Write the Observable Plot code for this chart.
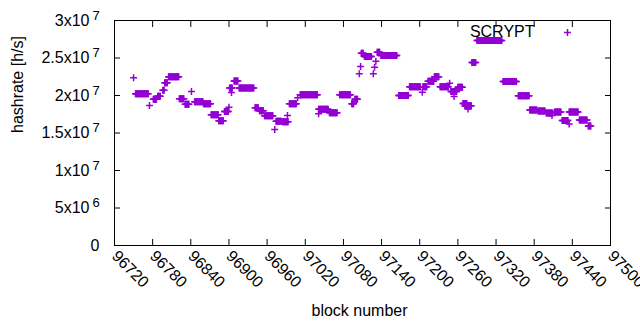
<!DOCTYPE html>
<html><head><meta charset="utf-8">
<script src="https://cdn.jsdelivr.net/npm/d3@7"></script>
<script src="https://cdn.jsdelivr.net/npm/@observablehq/plot@0.6"></script>
<style>
html,body{margin:0;padding:0;background:#fff}
svg{font-family:"Liberation Sans",Arial,sans-serif}
</style>
</head><body><div id="chart"></div>
<script>
// Runs of consecutive blocks sharing one hashrate estimate
const runStart = [96750,96753,96775,96781,96788,96796,96799,96805,96822,96831,96841,96846,96860,96872,96884,96893,96900,96901,96904,96908,96916,96941,96948,96956,96972,96974,96984,96992,96995,97008,97012,97041,97041,97058,97074,97093,97098,97105,97107,97108,97113,97127,97129,97131,97133,97139,97167,97184,97204,97205,97213,97223,97232,97247,97249,97254,97260,97268,97271,97276,97282,97290,97331,97355,97373,97386,97399,97408,97412,97424,97435,97435,97451,97465];
const runEnd   = [96750,96773,96775,96786,96792,96798,96803,96821,96829,96837,96841,96859,96871,96883,96891,96899,96900,96905,96904,96914,96939,96946,96954,96969,96972,96982,96993,96992,97006,97008,97039,97056,97041,97070,97091,97096,97102,97105,97107,97111,97124,97127,97129,97131,97137,97164,97182,97201,97204,97211,97222,97230,97245,97247,97258,97254,97267,97274,97281,97276,97288,97329,97352,97372,97384,97397,97409,97408,97422,97433,97435,97449,97463,97469];
const runValue = [22.36e6,20.22e6,18.67e6,19.5e6,19.9e6,20.7e6,21.7e6,22.5e6,19.56e6,18.84e6,20.53e6,19.16e6,18.9e6,17.42e6,16.62e6,17.87e6,18.44e6,21.0e6,20.4e6,21.95e6,21.0e6,18.36e6,17.96e6,17.29e6,15.47e6,16.58e6,16.5e6,17.33e6,18.9e6,19.7e6,20.09e6,18.18e6,17.56e6,17.69e6,20.09e6,18.9e6,19.5e6,22.9e6,23.87e6,25.64e6,25.2e6,22.9e6,23.78e6,24.58e6,25.78e6,25.33e6,20.0e6,21.16e6,20.44e6,21.16e6,21.9e6,22.49e6,21.16e6,21.64e6,20.53e6,19.87e6,21.1e6,18.93e6,18.62e6,18.2e6,24.4e6,27.33e6,21.87e6,19.96e6,18.07e6,17.93e6,17.67e6,17.33e6,17.8e6,16.67e6,16.2e6,17.8e6,16.73e6,15.93e6];

const xTicks = [96720,96780,96840,96900,96960,97020,97080,97140,97200,97260,97320,97380,97440,97500];
const yTicks = [0,5e6,1e7,1.5e7,2e7,2.5e7,3e7];
const yTickMantissa = ["0","5x10","1x10","1.5x10","2x10","2.5x10","3x10"];
const yTickExponent = ["","6","7","7","7","7","7"];
const seriesName = "SCRYPT";
const xLabel = "block number";
const yLabel = "hashrate [h/s]";

const points = [];
runStart.forEach((s, i) => {
  for (let b = s; b <= runEnd[i]; b++) points.push({block: b, hashrate: runValue[i]});
});
const yRows = yTicks.map((v, i) => ({v, m: yTickMantissa[i], e: yTickExponent[i]}));

const color = "#9400d3";
const plus = {draw(ctx, size) { const r = Math.sqrt(size / Math.PI); ctx.moveTo(-r, 0); ctx.lineTo(r, 0); ctx.moveTo(0, -r); ctx.lineTo(0, r); }};
const blank = () => "";

const chart = Plot.plot({
  width: 640, height: 330,
  marginLeft: 114, marginRight: 30, marginTop: 20, marginBottom: 85,
  x: {domain: [96720, 97500], label: null},
  y: {domain: [0, 3e7], label: null},
  style: {fontFamily: '"Liberation Sans", Arial, sans-serif', fontSize: "16px", color: "black", background: "white"},
  marks: [
    Plot.frame({stroke: "black", strokeWidth: 1}),
    Plot.axisX({anchor: "bottom", ticks: xTicks, tickSize: 6, dy: -6, tickFormat: blank, label: null}),
    Plot.axisX({anchor: "top", ticks: xTicks, tickSize: 6, dy: 6, tickFormat: blank, label: null}),
    Plot.axisY({anchor: "left", ticks: yTicks, tickSize: 6, dx: 6, tickFormat: blank, label: null}),
    Plot.axisY({anchor: "right", ticks: yTicks, tickSize: 6, dx: -6, tickFormat: blank, label: null}),
    Plot.axisX({anchor: "bottom", ticks: xTicks, tickSize: 0, tickPadding: 8, tickRotate: 45, tickFormat: d => String(d), label: null, fontSize: 16}),
    Plot.text(yRows.filter(d => d.e), {y: "v", text: "m", frameAnchor: "left", textAnchor: "end", dx: -25, fontSize: 16}),
    Plot.text(yRows.filter(d => d.e), {y: "v", text: "e", frameAnchor: "left", textAnchor: "start", dx: -22, dy: -5, fontSize: 13}),
    Plot.text(yRows.filter(d => !d.e), {y: "v", text: "m", frameAnchor: "left", textAnchor: "end", dx: -15, fontSize: 16}),
    Plot.text([xLabel], {frameAnchor: "bottom", dy: 70, dx: -3, fontSize: 16}),
    Plot.text([yLabel], {frameAnchor: "left", rotate: -90, dx: -97, fontSize: 16}),
    Plot.dot(points, {x: "block", y: "hashrate", symbol: plus, r: 3.5, stroke: color, fill: "none", strokeWidth: 1.5}),
    Plot.text([seriesName], {frameAnchor: "top-right", textAnchor: "end", lineAnchor: "middle", dx: -76, dy: 11, fontSize: 16}),
    Plot.dot([seriesName], {frameAnchor: "top-right", dx: -43, dy: 12, symbol: plus, r: 3.5, stroke: color, fill: "none", strokeWidth: 1.5})
  ]
});
document.getElementById("chart").appendChild(chart);
</script>
</body></html>
